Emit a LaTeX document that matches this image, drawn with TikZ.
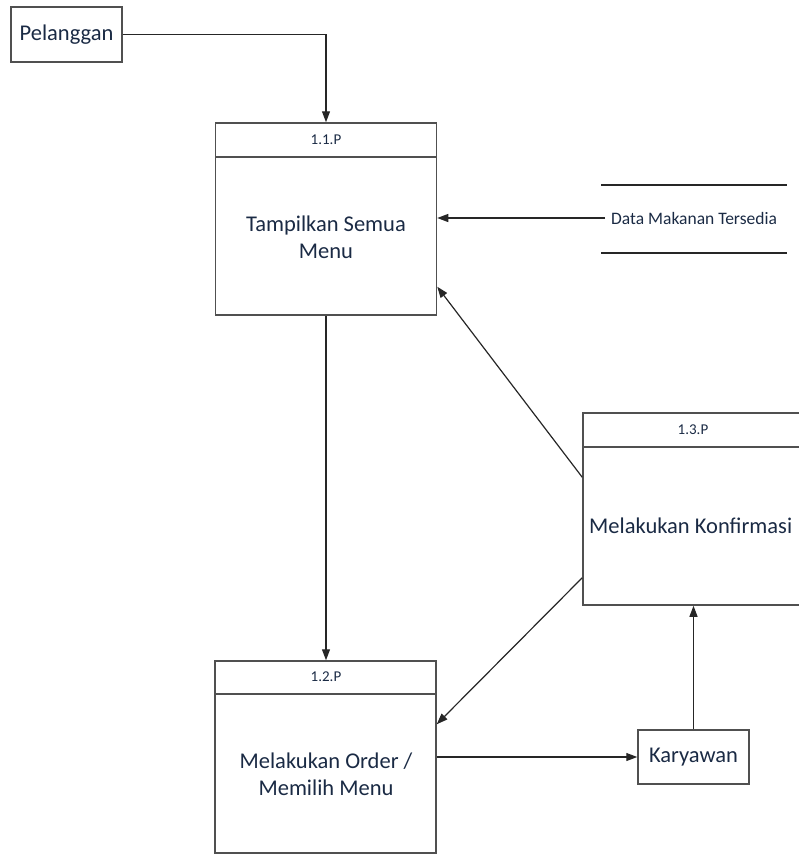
\documentclass[tikz,border=0pt]{standalone}
\usepackage{fontspec}
\setmainfont{Carlito}
\usetikzlibrary{arrows.meta}
\definecolor{boxline}{HTML}{505050}
\definecolor{txt}{HTML}{1A2A44}
\tikzset{
  procbox/.style={draw=boxline, line width=1.5pt, minimum width=221pt, minimum height=192pt, inner sep=0pt},
  entbox/.style={draw=boxline, line width=1.5pt, minimum width=111pt, minimum height=55pt, inner sep=0pt, font=\fontsize{22.5}{27}\selectfont, text=txt},
  hdr/.style={font=\fontsize{15}{17}\selectfont, text=txt, inner sep=0pt},
  maintxt/.style={font=\fontsize{22.5}{27}\selectfont, text=txt, align=center, inner sep=0pt},
  flow/.style={draw=black!85, line width=1.2pt, -{Triangle[length=11pt,width=8pt]}},
  hline/.style={draw=boxline, line width=1.5pt}
}
\begin{document}
\begin{tikzpicture}[x=1pt,y=-1pt]
\useasboundingbox (0,0) rectangle (799,854);
\clip (0,0) rectangle (799,854);
% Pelanggan
\node[entbox] (pel) at (66.5,34.5) {Pelanggan};
% Process 1.1
\node[procbox] (p11) at (326,219) {};
\coordinate (p11hl) at (215,157);
\coordinate (p11hr) at (437,157);
\draw[hline] (p11hl) -- (p11hr);
\node[hdr] (p11h) at (326,140) {1.1.P};
\node[maintxt] (p11t) at (326,237) {Tampilkan Semua\\Menu};
% Process 1.2
\node[procbox] (p12) at (325.5,757) {};
\coordinate (p12hl) at (215,694);
\coordinate (p12hr) at (436,694);
\draw[hline] (p12hl) -- (p12hr);
\node[hdr] (p12h) at (326,677) {1.2.P};
\node[maintxt] (p12t) at (326,774) {Melakukan Order /\\Memilih Menu};
% Process 1.3
\node[procbox, minimum width=220pt] (p13) at (693,509) {};
\coordinate (p13hl) at (583,447);
\coordinate (p13hr) at (803,447);
\draw[hline] (p13hl) -- (p13hr);
\node[hdr] (p13h) at (693,430) {1.3.P};
\node[maintxt, anchor=west] (p13t) at (589,526) {Melakukan Konfirmasi};
% Data store
\coordinate (dsa) at (601,185);
\coordinate (dsb) at (787,185);
\coordinate (dsc) at (601,253);
\coordinate (dsd) at (787,253);
\draw[draw=black!85, line width=1.3pt] (dsa) -- (dsb);
\draw[draw=black!85, line width=1.3pt] (dsc) -- (dsd);
\node[font=\fontsize{17.5}{20}\selectfont, text=txt, inner sep=0pt, anchor=west] (ds) at (611,218) {Data Makanan Tersedia};
% Karyawan
\node[entbox, minimum height=54pt] (kar) at (693.5,757) {Karyawan};
% Connectors
\draw[flow] (pel.east) -| (p11.north);
\draw[flow] ([xshift=-6pt]ds.west) -- (ds.west -| p11.east);
\draw[flow] (p11.south) -- (p11.south |- p12.north);
\draw[flow] ([yshift=-65pt]p13.north west) -- ([yshift=29pt]p11.south east);
\draw[flow] ([yshift=28pt]p13.south west) -- ([yshift=-64pt]p12.north east);
\draw[flow] (p12.east) -- (kar.west);
\draw[flow] (kar.north) -- (kar.north |- p13.south);
\end{tikzpicture}
\end{document}
